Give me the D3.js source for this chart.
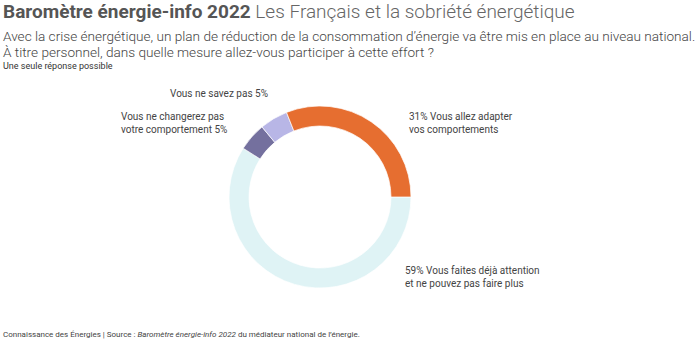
<!DOCTYPE html>
<html>
<head>
<meta charset="utf-8">
<script src="https://cdn.jsdelivr.net/npm/d3@7"></script>
<style>
  body { margin: 0; background: #fff; }
  svg { font-family: Roboto, "Noto Sans", sans-serif; }
</style>
</head>
<body>
<svg id="chart" width="700" height="340"></svg>
<script>
// answers, in drawing order (clockwise from 3 o'clock)
var answers = ['Vous faites déjà attention et ne pouvez pas faire plus',
               'Vous ne changerez pas votre comportement',
               'Vous ne savez pas',
               'Vous allez adapter vos comportements'];
var shares = [59, 5, 5, 31];
var colors = ['#dff3f5', '#74709e', '#b8b6e6', '#e66e30'];

// label lines; {v} is replaced by the share
var labelLines = [
    ['{v}% Vous faites déjà attention', 'et ne pouvez pas faire plus'],
    ['Vous ne changerez pas', 'votre comportement {v}%'],
    ['Vous ne savez pas {v}%'],
    ['{v}% Vous allez adapter', 'vos comportements']
];
var labelPos = [
    {x: 405, y: 274, anchor: 'start'},
    {x: 121, y: 120, anchor: 'start'},
    {x: 219, y: 97, anchor: 'middle'},
    {x: 409, y: 120, anchor: 'start'}
];

var svg = d3.select('#chart');

// title
var title = svg.append('text').attr('x', 3).attr('y', 18)
    .style('font-size', '19px').attr('fill', '#555');
title.append('tspan').attr('font-weight', 'bold').text('Baromètre énergie-info 2022');
title.append('tspan').attr('font-weight', 300).attr('fill', '#666').text(' Les Français et la sobriété énergétique');

var sub = ['Avec la crise énergétique, un plan de réduction de la consommation d’énergie va être mis en place au niveau national.',
           'À titre personnel, dans quelle mesure allez-vous participer à cette effort ?'];
svg.selectAll('.sub').data(sub).enter().append('text')
    .attr('class', 'sub')
    .attr('x', 3)
    .attr('y', function(d, i) { return 41 + i * 16; })
    .style('font-size', '13.6px')
    .attr('font-weight', 300)
    .attr('fill', '#444')
    .text(function(d) { return d; });

svg.append('text').attr('x', 3).attr('y', 69)
    .style('font-size', '9px').attr('fill', '#333')
    .text('Une seule réponse possible');

// donut
var cx = 320, cy = 197;
var pie = d3.pie().sort(null)
    .startAngle(Math.PI / 2)
    .endAngle(Math.PI / 2 + 2 * Math.PI);
var arc = d3.arc().innerRadius(71).outerRadius(91);

var g = svg.append('g').attr('transform', 'translate(' + cx + ',' + cy + ')');
g.selectAll('path')
    .data(pie(shares))
    .enter().append('path')
    .attr('d', arc)
    .attr('fill', function(d, i) { return colors[i]; })
    .attr('stroke', '#fff')
    .attr('stroke-width', 0.7);

// labels
labelLines.forEach(function(lines, i) {
    var t = svg.append('text')
        .attr('x', labelPos[i].x)
        .attr('y', labelPos[i].y)
        .attr('text-anchor', labelPos[i].anchor)
        .style('font-size', '10px')
        .attr('fill', '#444');
    lines.forEach(function(l, j) {
        t.append('tspan')
            .attr('x', labelPos[i].x)
            .attr('dy', j === 0 ? 0 : 12.5)
            .text(l.replace('{v}', shares[i]));
    });
});

// footer
var foot = svg.append('text').attr('x', 3).attr('y', 337)
    .style('font-size', '8px').attr('fill', '#444');
foot.append('tspan').text('Connaissance des Énergies | Source : ');
foot.append('tspan').attr('font-style', 'italic').text('Baromètre énergie-info 2022');
foot.append('tspan').text(' du médiateur national de l’énergie.');
</script>
</body>
</html>
